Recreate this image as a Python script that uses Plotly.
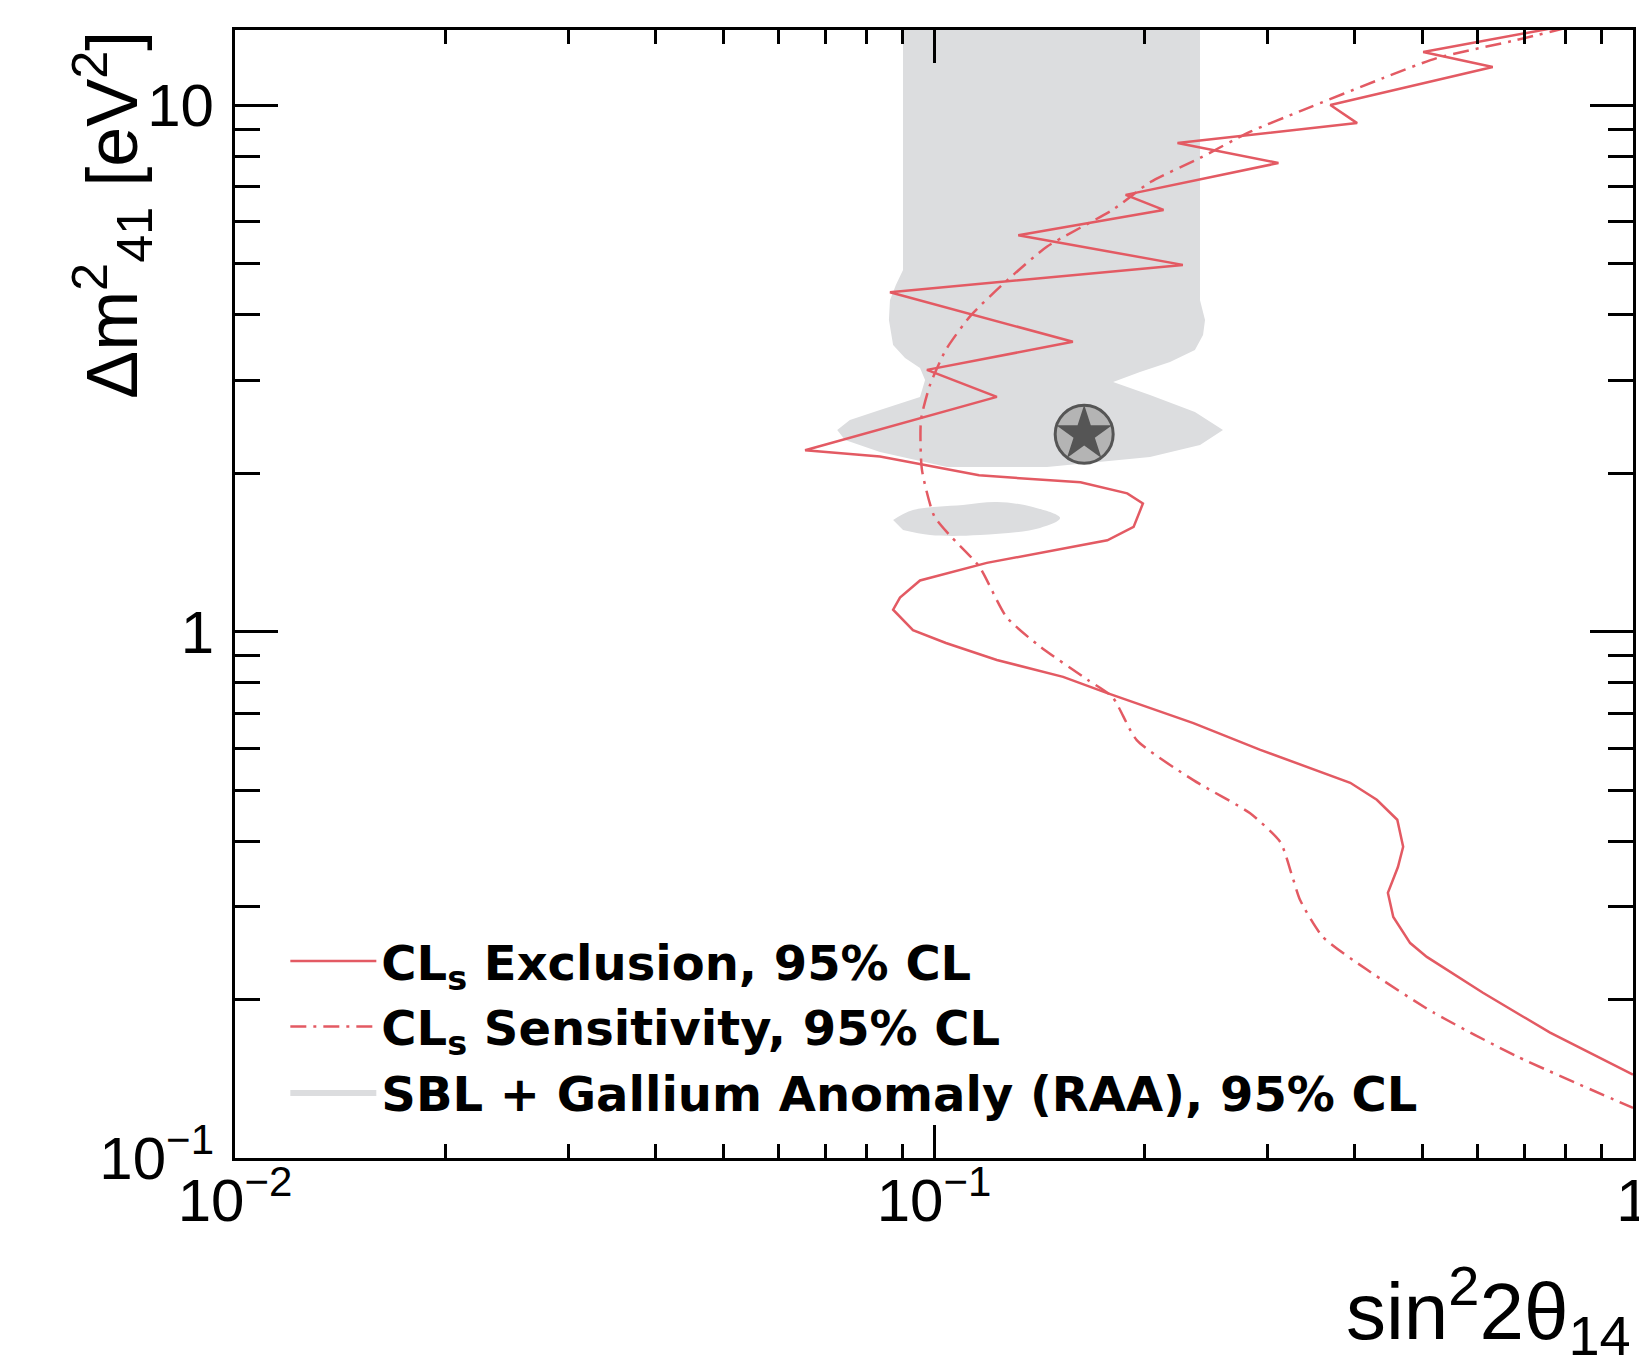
import plotly.graph_objects as go

# ---- data (sin^2 2theta14, dm^2_41 [eV^2]) ----
excl_x = [0.768, 0.501, 0.630, 0.369, 0.403, 0.223, 0.311, 0.188, 0.213, 0.132,
          0.227, 0.0865, 0.158, 0.0977, 0.123, 0.0654, 0.0837, 0.116, 0.162, 0.189,
          0.199, 0.193, 0.177, 0.145, 0.119, 0.0955, 0.0894, 0.0874, 0.0933, 0.104,
          0.123, 0.153, 0.177, 0.235, 0.293, 0.394, 0.430, 0.460, 0.469, 0.461,
          0.446, 0.454, 0.480, 0.507, 0.610, 0.761, 1.0]
excl_y = [14.0, 12.61, 11.81, 10.0, 9.24, 8.47, 7.76, 6.75, 6.32, 5.66,
          4.97, 4.41, 3.55, 3.14, 2.79, 2.21, 2.15, 1.98, 1.92, 1.83,
          1.75, 1.58, 1.49, 1.42, 1.35, 1.25, 1.16, 1.10, 1.006, 0.951,
          0.883, 0.820, 0.764, 0.670, 0.596, 0.516, 0.479, 0.439, 0.390, 0.357,
          0.319, 0.287, 0.256, 0.241, 0.206, 0.173, 0.144]

sens_x = [0.80, 0.682, 0.524, 0.439, 0.337, 0.283, 0.240, 0.204, 0.180, 0.145,
          0.126, 0.113, 0.104, 0.0987, 0.0958, 0.0961, 0.100, 0.105, 0.116, 0.127,
          0.142, 0.166, 0.180, 0.195, 0.235, 0.283, 0.313, 0.325, 0.334, 0.360,
          0.416, 0.518, 0.682, 1.0]
sens_y = [14.0, 13.29, 12.28, 11.25, 9.78, 8.89, 7.93, 7.14, 6.32, 5.38,
          4.59, 3.99, 3.43, 2.94, 2.52, 2.03, 1.66, 1.53, 1.33, 1.065,
          0.935, 0.809, 0.751, 0.622, 0.522, 0.452, 0.398, 0.345, 0.309, 0.263,
          0.228, 0.189, 0.156, 0.1245]

region_x = [0.0903, 0.2402, 0.2402, 0.2442, 0.2426, 0.2362, 0.2176, 0.1971, 0.1804, 0.2037,
            0.2362, 0.2591, 0.2402, 0.2037, 0.1451, 0.1044, 0.0837, 0.0746, 0.0727, 0.0758,
            0.0837, 0.0955, 0.0971, 0.0955, 0.0909, 0.0874, 0.0862, 0.0865, 0.0882, 0.0903]
region_y = [14.0, 14.0, 4.26, 3.905, 3.658, 3.425, 3.25, 3.11, 2.978, 2.813,
            2.612, 2.414, 2.261, 2.145, 2.053, 2.053, 2.193, 2.311, 2.414, 2.522,
            2.635, 2.789, 3.004, 3.166, 3.307, 3.50, 3.905, 4.26, 4.55, 4.86]

island_x = [0.0874, 0.0933, 0.1100, 0.1231, 0.1385, 0.1515, 0.1418, 0.1164, 0.0987, 0.0903]
island_y = [1.628, 1.701, 1.739, 1.762, 1.724, 1.643, 1.573, 1.525, 1.525, 1.559]

best_fit_x = [0.164]
best_fit_y = [2.37]

x_tickvals = [0.01, 0.1, 1]
x_ticktext = ["10<sup>\u22122</sup>", "10<sup>\u22121</sup>", "1"]
y_tickvals = [0.1, 1, 10]
y_ticktext = ["10<sup>\u22121</sup>", "1", "10"]
x_minor = [0.02, 0.03, 0.04, 0.05, 0.06, 0.07, 0.08, 0.09,
           0.2, 0.3, 0.4, 0.5, 0.6, 0.7, 0.8, 0.9]
y_minor = [0.2, 0.3, 0.4, 0.5, 0.6, 0.7, 0.8, 0.9,
           2, 3, 4, 5, 6, 7, 8, 9]

FONT = "Liberation Sans, Arial, Helvetica, sans-serif"
LEG_FONT = "DejaVu Sans, Liberation Sans, Arial, sans-serif"
RED = "#e35a63"
GREY = "#dcdddf"

fig = go.Figure()

fig.add_trace(go.Scatter(
    x=region_x, y=region_y, mode="lines", fill="toself", fillcolor=GREY,
    line=dict(width=0, color=GREY),
    name="<b>SBL + Gallium Anomaly (RAA), 95% CL</b>", legendrank=3))
fig.add_trace(go.Scatter(
    x=island_x, y=island_y, mode="lines", fill="toself", fillcolor=GREY,
    line=dict(width=0, color=GREY), showlegend=False, line_shape="spline"))

fig.add_trace(go.Scatter(
    x=sens_x, y=sens_y, mode="lines",
    line=dict(color=RED, width=2.5, dash="16px,7px,3px,7px", shape="spline", smoothing=0.6),
    name="<b>CL<sub>s</sub> Sensitivity, 95% CL</b>", legendrank=2))
fig.add_trace(go.Scatter(
    x=excl_x, y=excl_y, mode="lines",
    line=dict(color=RED, width=2.5),
    name="<b>CL<sub>s</sub> Exclusion, 95% CL</b>", legendrank=1))

fig.add_trace(go.Scatter(
    x=best_fit_x, y=best_fit_y, mode="markers", showlegend=False,
    marker=dict(symbol="circle", size=58, color="#b4b4b4",
                line=dict(color="#555555", width=3))))
fig.add_trace(go.Scatter(
    x=best_fit_x, y=best_fit_y, mode="markers", showlegend=False,
    marker=dict(symbol="star", size=42, color="#555555",
                line=dict(width=0))))

axis_common = dict(
    type="log", showgrid=False, zeroline=False, automargin=False,
    showline=True, linecolor="black", linewidth=3, mirror="ticks",
    ticks="inside", tickwidth=3, tickcolor="black",
    tickmode="array", ticklabeloverflow="allow",
    tickfont=dict(family=FONT, size=60, color="black"),
)

fig.update_xaxes(**axis_common, range=[-2, 0], tickvals=x_tickvals, ticktext=x_ticktext,
                 ticklen=33, ticklabelstandoff=-12,
                 minor=dict(tickmode="array", tickvals=x_minor, ticks="inside",
                            ticklen=14, tickwidth=3, tickcolor="black"))
fig.update_yaxes(**axis_common, range=[-1, 1.1425], tickvals=y_tickvals, ticktext=y_ticktext,
                 ticklen=43, ticklabelstandoff=6,
                 minor=dict(tickmode="array", tickvals=y_minor, ticks="inside",
                            ticklen=25, tickwidth=3, tickcolor="black"))

fig.add_annotation(
    text="\u0394m<sup>2</sup><sub>41</sub> [eV<sup>2</sup>]", textangle=-90,
    xref="paper", yref="paper", x=-0.088, y=0.836,
    xanchor="center", yanchor="middle", showarrow=False,
    font=dict(family=FONT, size=72, color="black"))
fig.add_annotation(
    text="sin<sup>2</sup>2\u03b8<sub>14</sub>",
    xref="paper", yref="paper", x=1.0, y=-0.135,
    xanchor="right", yanchor="middle", showarrow=False,
    font=dict(family=FONT, size=80, color="black"))

fig.update_layout(
    width=1639, height=1355,
    margin=dict(l=235, r=6, t=30, b=197, autoexpand=False),
    plot_bgcolor="white", paper_bgcolor="white",
    showlegend=True,
    legend=dict(x=0.036, y=0.208, xanchor="left", yanchor="top",
                bgcolor="rgba(0,0,0,0)", itemwidth=86, traceorder="normal",
                font=dict(family=LEG_FONT, size=48, color="black")),
)

fig.write_html("out.html")
